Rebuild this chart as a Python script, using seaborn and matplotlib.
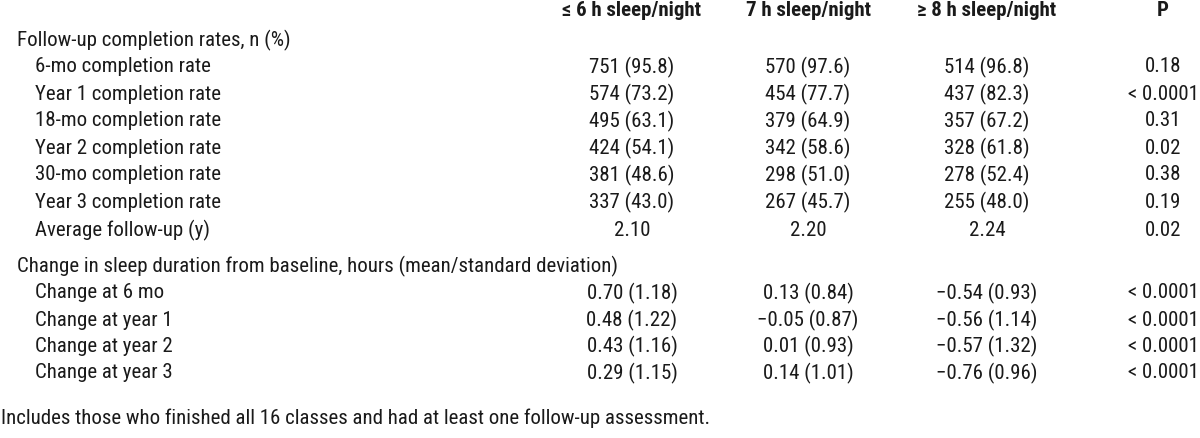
import matplotlib
matplotlib.use("Agg")
import matplotlib.pyplot as plt
from matplotlib import font_manager
import seaborn as sns
import pandas as pd

# column headers
groups = ["\u2264 6 h sleep/night", "7 h sleep/night", "\u2265 8 h sleep/night"]
p_header = "P"

# section 1: follow-up completion, n (%)
completion_labels = ["6-mo completion rate", "Year 1 completion rate", "18-mo completion rate",
                     "Year 2 completion rate", "30-mo completion rate", "Year 3 completion rate"]
n_short = [751, 574, 495, 424, 381, 337]
pct_short = [95.8, 73.2, 63.1, 54.1, 48.6, 43.0]
n_mid = [570, 454, 379, 342, 298, 267]
pct_mid = [97.6, 77.7, 64.9, 58.6, 51.0, 45.7]
n_long = [514, 437, 357, 328, 278, 255]
pct_long = [96.8, 82.3, 67.2, 61.8, 52.4, 48.0]
p_completion = ["0.18", "< 0.0001", "0.31", "0.02", "0.38", "0.19"]

avg_followup = [2.10, 2.20, 2.24]
p_avg = "0.02"

# section 2: change in sleep duration, mean (sd)
change_labels = ["Change at 6 mo", "Change at year 1", "Change at year 2", "Change at year 3"]
mean_short = [0.70, 0.48, 0.43, 0.29]
sd_short = [1.18, 1.22, 1.16, 1.15]
mean_mid = [0.13, -0.05, 0.01, 0.14]
sd_mid = [0.84, 0.87, 0.93, 1.01]
mean_long = [-0.54, -0.56, -0.57, -0.76]
sd_long = [0.93, 1.14, 1.32, 0.96]
p_change = ["< 0.0001", "< 0.0001", "< 0.0001", "< 0.0001"]

section1 = "Follow-up completion rates, n (%)"
section2 = "Change in sleep duration from baseline, hours (mean/standard deviation)"
footnote = "Includes those who finished all 16 classes and had at least one follow-up assessment."


def fmt(v):
    return f"{v:.2f}".replace("-", "\u2212")


# build table rows: (label, indent, cells, y)
rows = []
rows.append((section1, 0, ["", "", "", ""], 40))
ys1 = [67, 94, 121, 148, 175, 202]
for i, lab in enumerate(completion_labels):
    cells = [f"{n_short[i]} ({pct_short[i]:.1f})", f"{n_mid[i]} ({pct_mid[i]:.1f})",
             f"{n_long[i]} ({pct_long[i]:.1f})", p_completion[i]]
    rows.append((lab, 1, cells, ys1[i]))
rows.append(("Average follow-up (y)", 1, [f"{v:.2f}" for v in avg_followup] + [p_avg], 230))
rows.append((section2, 0, ["", "", "", ""], 266))
ys2 = [293, 320, 346, 373]
for i, lab in enumerate(change_labels):
    cells = [f"{fmt(mean_short[i])} ({sd_short[i]:.2f})", f"{fmt(mean_mid[i])} ({sd_mid[i]:.2f})",
             f"{fmt(mean_long[i])} ({sd_long[i]:.2f})", p_change[i]]
    rows.append((lab, 1, cells, ys2[i]))
table = pd.DataFrame(rows, columns=["label", "indent", "cells", "y"])

sns.set_theme(style="white")

# prefer a narrow sans if one is installed, else shrink regular sans a bit
installed = {f.name for f in font_manager.fontManager.ttflist}
narrow = [n for n in ["Liberation Sans Narrow", "Arial Narrow", "Roboto Condensed",
                      "DejaVu Sans Condensed", "Open Sans Condensed"] if n in installed]
if narrow:
    plt.rcParams["font.family"] = [narrow[0], "DejaVu Sans"]
    fs = 15
else:
    plt.rcParams["font.family"] = ["Liberation Sans", "DejaVu Sans"]
    fs = 13.4
txt = "#1a1a1a"

fig = plt.figure(figsize=(12, 4.38), dpi=100)
ax = fig.add_axes([0, 0, 1, 1])
ax.set_xlim(0, 1200)
ax.set_ylim(438, 0)
ax.axis("off")

col_x = [632, 808, 987, 1163]

for x, h in zip(col_x, groups + [p_header]):
    ax.text(x, 10, h, ha="center", va="center", fontsize=fs, fontweight="bold", color=txt)

for _, r in table.iterrows():
    ax.text(17 + 18 * r["indent"], r["y"], r["label"], ha="left", va="center",
            fontsize=fs, color=txt)
    for x, c in zip(col_x, r["cells"]):
        if c:
            ax.text(x, r["y"], c, ha="center", va="center", fontsize=fs, color=txt)

ax.text(1, 418, footnote, ha="left", va="center", fontsize=fs, color=txt)

fig.savefig("out.png", dpi=100)
